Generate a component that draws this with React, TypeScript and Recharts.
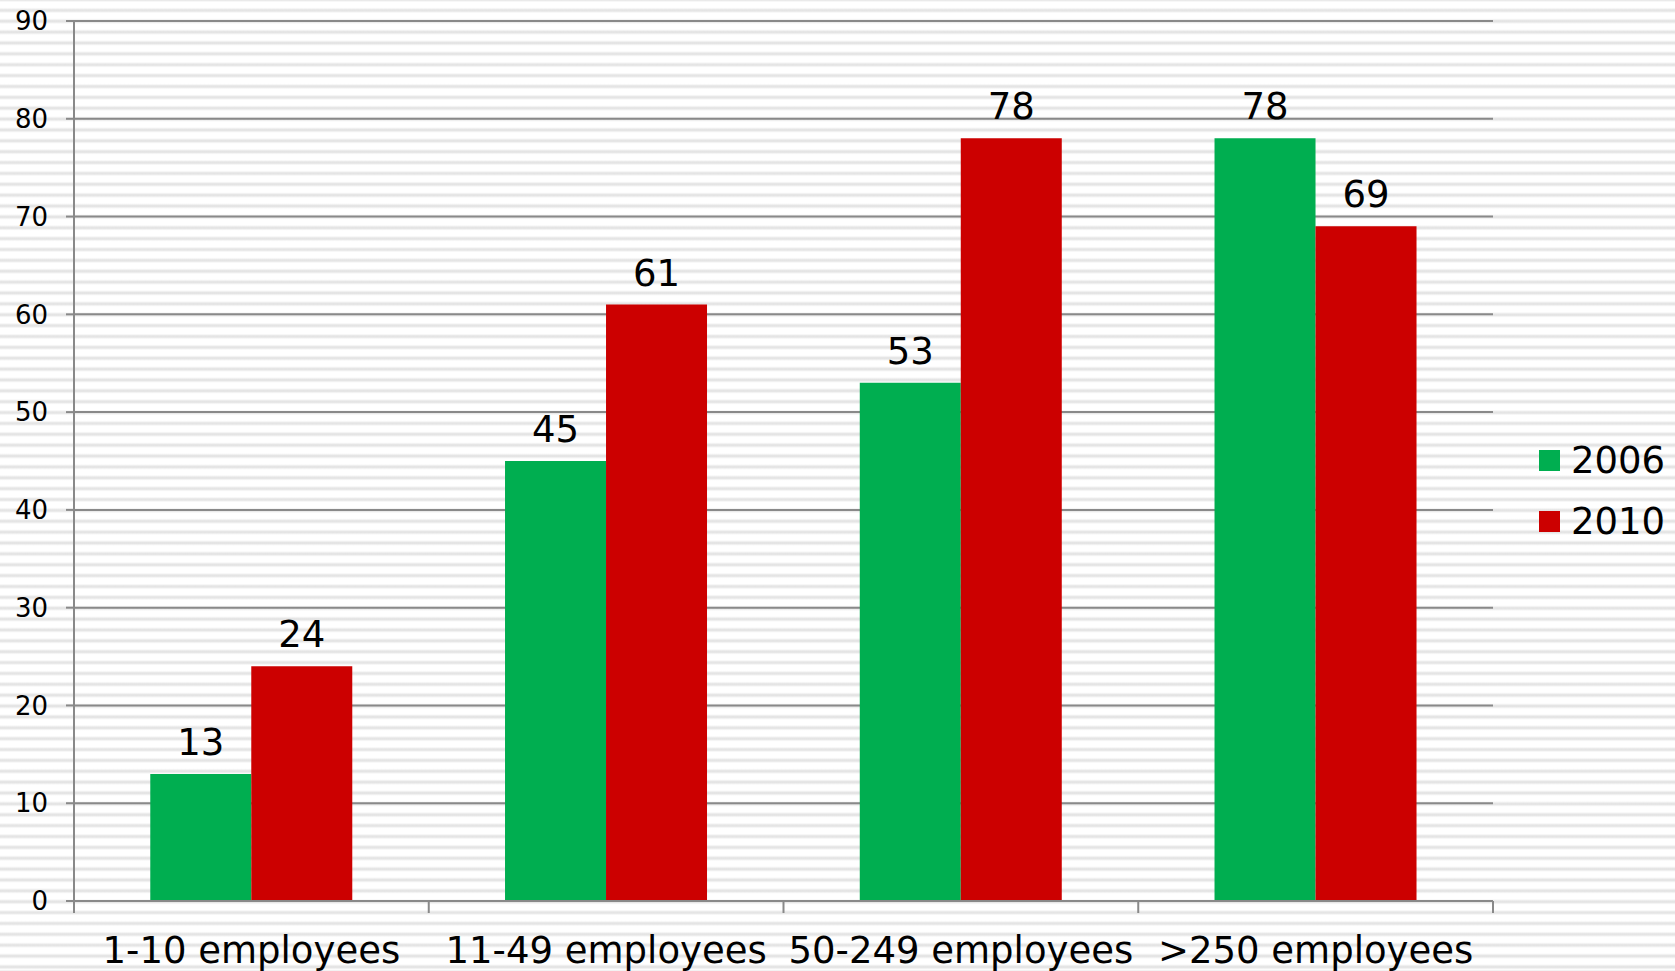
import React from "react";
import { Bar, BarChart, CartesianGrid, LabelList, Legend, XAxis, YAxis } from "recharts";

const categories = ["1-10 employees", "11-49 employees", "50-249 employees", ">250 employees"];
const values2006 = [13, 45, 53, 78];
const values2010 = [24, 61, 78, 69];
const yTicks = [0, 10, 20, 30, 40, 50, 60, 70, 80, 90];

const data = categories.map((name, i) => ({
  name,
  y2006: values2006[i],
  y2010: values2010[i],
}));

const FONT = "Verdana, 'DejaVu Sans', sans-serif";
const GRAY = "#898989";
const GREEN = "#00AE50";
const RED = "#CC0000";

const stripes =
  "repeating-linear-gradient(180deg, #e0e0e0 0px, #ebebeb 1.3px, #ffffff 2.4px, #ffffff 8.4px, #ebebeb 9.6px, #e0e0e0 10.87px)";

function CategoryTick(props: any) {
  const { x, y, payload } = props;
  const half = payload.offset ?? 0;
  const last = payload.index === categories.length - 1;
  return (
    <g>
      <line x1={x - half} x2={x - half} y1={y} y2={y + 12} stroke={GRAY} strokeWidth={2} />
      {last && <line x1={x + half} x2={x + half} y1={y} y2={y + 12} stroke={GRAY} strokeWidth={2} />}
      <text x={x} y={y + 62} textAnchor="middle" fontSize={37} fill="#000" fontFamily={FONT}>
        {payload.value}
      </text>
    </g>
  );
}

function LegendBox(props: any) {
  const items = props.payload || [];
  return (
    <div style={{ fontFamily: FONT }}>
      {items.map((it: any) => (
        <div key={it.value} style={{ display: "flex", alignItems: "center", height: 61 }}>
          <span style={{ width: 21, height: 21, background: it.color, marginRight: 11, display: "inline-block" }} />
          <span style={{ fontSize: 37, color: "#000" }}>{it.value}</span>
        </div>
      ))}
    </div>
  );
}

export default function App() {
  return (
    <div
      style={{
        position: "absolute",
        left: 0,
        top: 0,
        width: 1675,
        height: 971,
        background: stripes,
        backgroundPosition: "0 -0.5px",
        fontFamily: FONT,
      }}
    >
      <BarChart
        width={1675}
        height={971}
        data={data}
        margin={{ top: 21, right: 182, left: 0, bottom: 0 }}
        barCategoryGap="21.5%"
        barGap={0}
      >
        <CartesianGrid vertical={false} stroke={GRAY} strokeWidth={2} />
        <XAxis
          dataKey="name"
          height={70}
          interval={0}
          tickLine={false}
          tickSize={0}
          tickMargin={0}
          axisLine={{ stroke: GRAY, strokeWidth: 2 }}
          tick={<CategoryTick />}
        />
        <YAxis
          width={74}
          domain={[0, 90]}
          ticks={yTicks}
          interval={0}
          tickSize={8}
          tickMargin={18}
          axisLine={{ stroke: GRAY, strokeWidth: 2 }}
          tickLine={{ stroke: GRAY, strokeWidth: 2 }}
          tick={{ fontSize: 26, fill: "#000", fontFamily: FONT }}
        />
        <Legend
          layout="vertical"
          align="center"
          verticalAlign="middle"
          content={<LegendBox />}
          wrapperStyle={{ left: 1539, top: 430, width: 136 }}
        />
        <Bar dataKey="y2006" name="2006" fill={GREEN} isAnimationActive={false}>
          <LabelList dataKey="y2006" position="top" offset={19} fontSize={37} fill="#000" fontFamily={FONT} />
        </Bar>
        <Bar dataKey="y2010" name="2010" fill={RED} isAnimationActive={false}>
          <LabelList dataKey="y2010" position="top" offset={19} fontSize={37} fill="#000" fontFamily={FONT} />
        </Bar>
      </BarChart>
    </div>
  );
}
